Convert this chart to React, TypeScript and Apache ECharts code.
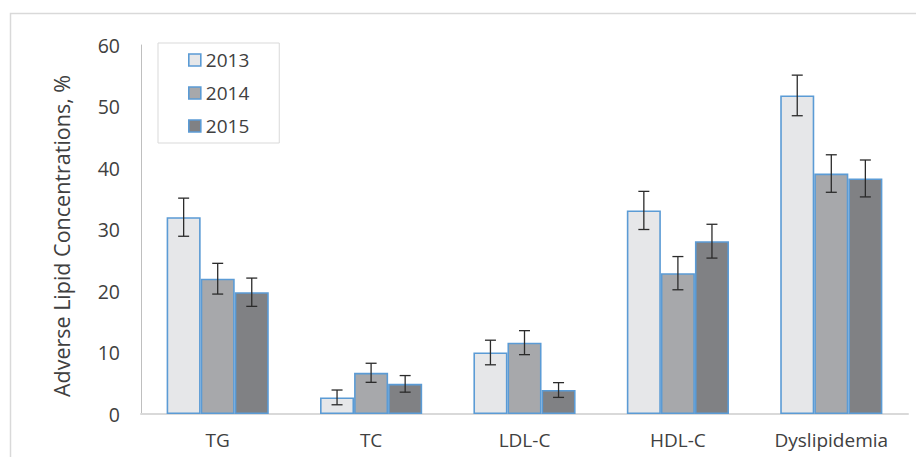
import React, { useEffect, useRef } from "react";
import * as echarts from "echarts";

const categories = ["TG", "TC", "LDL-C", "HDL-C", "Dyslipidemia"];
const years = ["2013", "2014", "2015"];
const values2013 = [32.0, 2.7, 10.0, 33.1, 51.8];
const values2014 = [22.0, 6.7, 11.6, 22.9, 39.1];
const values2015 = [19.8, 4.9, 3.9, 28.1, 38.3];
const err2013 = [3.1, 1.2, 2.0, 3.1, 3.3];
const err2014 = [2.5, 1.55, 1.95, 2.7, 3.05];
const err2015 = [2.3, 1.35, 1.2, 2.75, 3.0];
const yTicks = [0, 10, 20, 30, 40, 50, 60];

const colors = ["#e6e7e9", "#a7a8ab", "#808184"];
const BAR_FRAC = 0.222;
const FONT = "'Open Sans', sans-serif";
const TEXT = "#404040";

export default function App() {
  const ref = useRef<HTMLDivElement>(null);
  useEffect(() => {
    if (!ref.current) return;
    const chart = echarts.init(ref.current, null, { renderer: "svg" });
    const vals = [values2013, values2014, values2015];
    const errs = [err2013, err2014, err2015];
    const barSeries = years.map((y, i) => ({
      name: y,
      type: "bar",
      data: vals[i],
      barWidth: BAR_FRAC * 100 + "%",
      barGap: "0%",
      itemStyle: { color: colors[i], borderColor: "#5b9bd5", borderWidth: 1.6 },
      z: 2,
    }));
    const errSeries = years.map((y, i) => ({
      type: "custom",
      name: "err" + y,
      data: vals[i].map((v, k) => [k, v - errs[i][k], v + errs[i][k]]),
      z: 5,
      renderItem: (params: any, api: any) => {
        const k = api.value(0);
        const lo = api.coord([k, api.value(1)]);
        const hi = api.coord([k, api.value(2)]);
        const band = api.size([1, 0])[0];
        const bw = band * BAR_FRAC;
        const x = lo[0] + (i - 1) * bw;
        const cap = 5.5;
        const style = { stroke: "#2b2b2b", lineWidth: 1.3 };
        return {
          type: "group",
          children: [
            { type: "line", shape: { x1: x, y1: lo[1], x2: x, y2: hi[1] }, style },
            { type: "line", shape: { x1: x - cap, y1: lo[1], x2: x + cap, y2: lo[1] }, style },
            { type: "line", shape: { x1: x - cap, y1: hi[1], x2: x + cap, y2: hi[1] }, style },
          ],
        };
      },
    }));
    chart.setOption({
      animation: false,
      backgroundColor: "#ffffff",
      textStyle: { fontFamily: FONT },
      grid: { left: 141, right: 8, top: 45, bottom: 43, containLabel: false },
      legend: {
        data: years,
        orient: "vertical",
        left: 158,
        top: 43,
        padding: [6, 30, 6, 30],
        itemGap: 11,
        itemWidth: 12,
        itemHeight: 12,
        icon: "rect",
        borderColor: "#d9d9d9",
        borderWidth: 1,
        itemStyle: { borderColor: "#5b9bd5", borderWidth: 1.6 },
        textStyle: { fontFamily: FONT, fontSize: 19, color: TEXT, lineHeight: 22, padding: [0, 0, 0, 0] },
      },
      xAxis: {
        type: "category",
        data: categories,
        axisLine: { show: true, lineStyle: { color: "#d9d9d9", width: 2 } },
        axisTick: { show: false },
        axisLabel: { fontFamily: FONT, fontSize: 19, color: TEXT, margin: 16 },
      },
      yAxis: {
        type: "value",
        min: yTicks[0],
        max: yTicks[yTicks.length - 1],
        interval: 10,
        axisLine: { show: true, lineStyle: { color: "#bfbfbf", width: 1 } },
        axisTick: { show: false },
        splitLine: { show: false },
        axisLabel: { fontFamily: FONT, fontSize: 19.5, color: TEXT, margin: 21 },
      },
      graphic: [
        {
          type: "rect",
          shape: { x: 10.5, y: 13.5, width: 920, height: 460 },
          style: { fill: "none", stroke: "#d9d9d9", lineWidth: 1.5 },
          z: -10,
          silent: true,
        },
        {
          type: "text",
          x: 61,
          y: 236,
          rotation: Math.PI / 2,
          style: {
            text: "Adverse Lipid Concentrations, %",
            fontFamily: FONT,
            fontSize: 21.5,
            fill: TEXT,
            align: "center",
            verticalAlign: "middle",
          },
        },
      ],
      series: [...barSeries, ...errSeries],
    });
    return () => chart.dispose();
  }, []);
  return (
    <div
      ref={ref}
      style={{ position: "fixed", left: 0, top: 0, width: 916, height: 457 }}
    />
  );
}
